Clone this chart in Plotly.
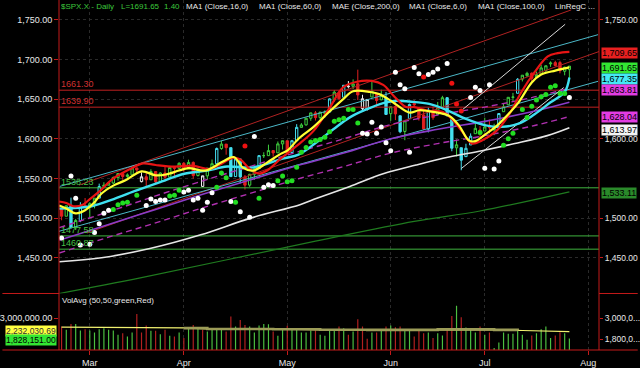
import plotly.graph_objects as go

# ---------------- data ----------------
OPEN = [1511.95,1502.42,1515.60,1487.85,1496.94,1515.99,1514.68,1518.20,1525.20,1539.79,
1541.46,1544.26,1551.15,1556.22,1552.48,1554.52,1563.21,1546.00,1552.10,1548.34,
1558.71,1545.90,1556.89,1551.69,1563.75,1562.86,1569.18,1562.17,1570.25,1553.69,
1540.00,1553.26,1563.11,1568.61,1587.73,1593.30,1588.84,1552.36,1574.57,1552.03,
1541.61,1555.25,1562.50,1578.78,1578.78,1585.16,1582.34,1593.58,1597.55,1582.77,
1597.60,1614.40,1617.55,1625.95,1632.69,1626.69,1632.10,1633.75,1649.13,1658.07,
1652.45,1665.71,1666.20,1669.39,1638.00,1637.00,1652.63,1656.57,1649.14,1652.13,
1631.71,1640.73,1629.05,1609.29,1625.27,1644.67,1638.64,1629.94,1612.15,1635.52,
1630.64,1639.77,1651.83,1624.62,1588.62,1588.77,1577.52,1592.27,1606.44,1611.12,
1609.78,1614.29,1611.48,1618.65,1634.20,1642.89,1652.28,1657.41,1675.26,1679.59,
1682.70,1677.91,1681.05,1686.15,1694.41,1696.06,1696.06,1685.21,1687.31]
HIGH = [1511.95,1515.64,1525.84,1498.99,1520.08,1525.34,1519.99,1525.27,1543.47,1545.25,
1545.78,1552.48,1556.27,1556.77,1556.39,1563.32,1563.62,1557.70,1557.25,1561.56,
1558.71,1557.74,1564.91,1563.95,1564.07,1570.28,1570.57,1573.66,1571.47,1562.60,
1553.50,1563.07,1573.89,1589.07,1597.35,1593.30,1588.84,1575.35,1574.57,1554.38,
1555.89,1565.55,1579.58,1583.00,1592.64,1585.78,1596.65,1597.57,1597.55,1598.60,
1618.46,1619.77,1626.03,1632.78,1635.01,1633.70,1636.00,1651.10,1661.49,1660.51,
1667.47,1672.84,1674.93,1687.18,1655.50,1649.78,1674.21,1656.57,1661.91,1658.99,
1640.42,1646.53,1629.31,1622.56,1644.40,1648.69,1640.13,1637.71,1639.25,1640.80,
1646.50,1654.19,1652.45,1624.62,1599.19,1588.77,1593.79,1606.83,1620.07,1615.94,
1626.61,1624.26,1618.97,1632.07,1644.68,1652.48,1657.92,1676.63,1680.19,1684.51,
1683.73,1684.75,1693.12,1692.09,1697.61,1698.38,1698.38,1690.94,1691.85]
LOW = [1497.29,1502.42,1487.85,1485.01,1494.88,1514.46,1501.48,1512.29,1525.20,1538.11,
1541.46,1542.94,1547.36,1548.24,1548.25,1554.52,1555.74,1545.13,1538.57,1548.34,
1543.55,1545.90,1546.22,1551.69,1551.90,1561.08,1558.47,1562.17,1549.80,1552.52,
1539.50,1548.63,1560.92,1568.61,1586.17,1579.97,1552.28,1552.36,1543.69,1536.03,
1539.40,1548.19,1562.50,1575.80,1578.78,1577.56,1582.34,1586.50,1581.28,1582.77,
1597.60,1614.21,1616.64,1622.70,1623.09,1623.71,1626.74,1633.75,1646.68,1648.60,
1652.45,1663.52,1662.67,1648.86,1635.53,1635.60,1652.63,1640.05,1648.61,1630.74,
1622.72,1623.62,1607.09,1598.23,1625.27,1639.26,1622.92,1610.92,1608.07,1623.96,
1630.34,1639.77,1628.91,1584.32,1577.70,1560.33,1577.09,1592.27,1606.44,1601.06,
1609.78,1606.77,1604.57,1614.71,1634.20,1642.89,1647.66,1657.41,1672.33,1677.89,
1671.84,1677.91,1681.05,1684.08,1690.67,1691.13,1682.57,1680.07,1676.03]
CLOSE = [1502.42,1515.60,1487.85,1496.94,1515.99,1514.68,1518.20,1525.20,1539.79,1541.46,
1544.26,1551.18,1556.22,1552.48,1554.52,1563.23,1560.70,1552.10,1548.34,1558.71,
1545.80,1556.89,1551.69,1563.77,1562.85,1569.19,1562.17,1570.25,1553.69,1559.98,
1553.28,1563.07,1568.61,1587.73,1593.37,1588.85,1552.36,1574.57,1552.01,1541.61,
1555.25,1562.50,1578.78,1578.79,1585.16,1582.24,1593.61,1597.57,1582.70,1597.59,
1614.42,1617.50,1625.96,1632.69,1626.67,1633.70,1633.77,1650.34,1658.78,1650.47,
1667.47,1666.29,1669.16,1655.35,1650.51,1649.60,1660.06,1648.36,1654.41,1630.74,
1640.42,1631.38,1608.90,1622.56,1643.38,1642.81,1626.13,1612.52,1636.36,1626.73,
1639.04,1651.81,1628.93,1588.19,1592.43,1573.09,1588.03,1603.26,1613.20,1606.28,
1614.96,1614.08,1615.41,1631.89,1640.46,1652.32,1652.62,1675.02,1680.19,1682.50,
1676.26,1680.91,1689.37,1692.09,1695.53,1692.39,1685.94,1690.25,1691.65]
PREV_CLOSE = 1511.95

VOLUME_K = [2524,2333,2676,2676,2295,2371,2295,2181,2371,2429,
2333,2295,2048,2143,1952,2181,3248,2181,2581,2276,
2276,2086,2333,1990,1952,2181,1857,2429,2619,2429,
2333,2238,2333,2390,2333,2238,3095,2524,2905,2619,
2524,2181,2581,2676,2657,2238,1990,2333,2562,2333,
2333,2181,2181,2295,2295,2048,1990,2333,2371,2524,
2429,2048,2238,2943,2524,1819,2181,2181,2295,2524,
2581,2486,2524,2371,2276,1952,2276,2143,2181,1857,
2143,2010,2371,3133,3724,3057,2467,2333,2181,2524,
2048,2181,1286,1610,2181,2105,2105,2295,2048,1762,
2010,2143,2371,2524,1857,2010,2200,2143,1828]

VOLAVG_I = [0, 10, 26, 31, 45, 48, 55, 65, 80, 92, 98, 108]
VOLAVG_K = [2486, 2467, 2448, 2390, 2390, 2371, 2333, 2333, 2371, 2333, 2295, 2232.03]
VOLAVG2_I = [26, 31, 45, 55, 65, 80, 92, 97]
VOLAVG2_K = [2430, 2380, 2371, 2340, 2333, 2362, 2333, 2310]

MONTHS = ["Mar", "Apr", "May", "Jun", "Jul", "Aug"]
MONTH_START_BAR = [6, 26, 48, 70, 90, 112]
PRICE_TICKS = [1450, 1500, 1550, 1600, 1650, 1700, 1750]
RIGHT_TICKS = [1450, 1500, 1600, 1750]

# moving averages (sampled bar index, value)
MA6_I = [-0.5,1,3,5,7,8.5,11,13.7,17,20,22.2,25,27,30.6,34.2,36.6,38.7,40.8,43.7,46.6,48,50.4,53.6,57.1,59.9,62,65.6,67.7,69.5,71.2,74,76,78,80,82.4,84.5,86.6,88,90.2,92.3,95,97.2,100,102,105,108]
MA6_V = [1516,1512,1506,1510,1520,1531,1541,1548,1559,1554,1555,1560,1563,1560,1571,1577,1563,1560,1570,1581,1585,1600,1615,1635,1650,1660,1659,1656,1650,1643,1633,1636,1635,1633,1629,1617,1598,1597,1606,1615,1631,1646,1671,1681,1686,1690]
MA16_I = [-0.5,1,2.5,4.5,6,8.3,11,14.6,17.3,20,24,28,31.4,33.5,36.5,38,40,42,43.7,46.6,50.2,53.6,57.1,59.9,62.8,66,68.4,70.5,73.3,75,78.2,81,83,85.2,87.3,89.4,92.3,95,97.8,100.6,103.4,105.5,108]
MA16_V = [1521,1519,1515,1517,1524,1535,1550,1562,1569,1567,1565,1566,1562,1567,1576,1574,1562,1556,1560,1575,1592,1610,1640,1665,1672,1673,1668,1655,1640,1640,1635,1634,1625,1609,1594,1598,1609,1629,1659,1684,1704,1708,1709.65]
MA60C_I = [-0.5,6.4,10.6,15.5,21.2,26.1,31,35.2,40.8,47,50.4,54.3,57.8,61.3,64.8,68.4,71.2,74,78.2,82.4,86,90.2,93.6,97.2,100.6,104,107,108]
MA60C_V = [1512,1515,1523,1534,1546,1556,1560,1565,1564,1575,1580,1596,1612,1627,1637,1645,1648,1647,1644,1635,1625,1617,1615,1619,1631,1646,1659,1677.35]
MA100_I = [-0.5,8.5,19,29.6,40.2,50.7,54.3,61.3,68.4,75.4,82.4,89.4,96.4,103.3,108]
MA100_V = [1445,1450,1462,1479,1500,1517,1525,1540,1556,1567,1577,1585,1594,1604,1613.97]
MAE200_I = [-0.5,17,54,75,89,108]
MAE200_V = [1405,1425,1471,1496,1509,1533.11]
ENV_I = [-0.5,10,20,30,40,50,60,70,80,90,100,108]
ENV_MID = [1472,1492,1511,1530,1548,1566,1582,1600,1612,1622,1634,1646]
ENV_UP = [1488,1508,1528,1547,1565,1583,1600,1618,1630,1640,1652,1663.81]
ENV_LO = [1456,1476,1494,1513,1531,1549,1565,1582,1594,1604,1616,1628.04]

# trend / regression channel lines: (start bar, start value, end bar, end value)
RED_CH_UP = [3.7, 1541.6, 108.4, 1762.5]
RED_CH_LO = [5.4, 1481.3, 114.3, 1710.0]
CYAN_CH_UP = [-0.4, 1540.0, 114.1, 1731.3]
CYAN_CH_LO = [-0.55, 1483.4, 114.1, 1672.5]
WHITE_TL_UP = [85, 1635.4, 107.1, 1744.4]
WHITE_TL_LO = [85, 1562.5, 106.8, 1664.6]

LEVELS_RED = [1661.30, 1639.90]
LEVELS_GREEN = [1538.23, 1477.58, 1460.87]

# indicator dots (bar index, value)
WHITE_DOTS_I = [0,2,3,4,6,7,8,9,10,18,19,20,21,22,26,27,28,29,30,31,32,36,38,40,41,43,44,45,64,65,66,67,68,69,70,71,72,73,74,75,76,78,79,80,82,87,88,89,91,90,92,93,108]
WHITE_DOTS_V = [1475,1553,1525,1466,1467,1482,1493,1506,1510,1516,1524,1521,1523,1523,1533,1535,1523,1525,1510,1520,1532,1521,1508,1501,1603,1539,1542,1541,1607,1606,1621,1607,1615,1595,1585,1684,1668,1663,1583,1690,1682,1681,1684,1688,1695,1652,1665,1661,1668,1563,1562,1572,1652]
GREEN_DOTS_I = [11,12,13,14,16,23,24,25,33,34,35,37,42,46,47,48,49,50,51,52,53,54,55,56,57,58,59,60,61,62,63,89,94,95,96,98,99,100,101,102,103,104,105,106,107]
GREEN_DOTS_V = [1511,1517,1519,1520,1529,1528,1529,1535,1539,1557,1551,1520,1525,1547,1553,1546,1547,1564,1583,1589,1596,1598,1599,1602,1609,1622,1624,1626,1637,1637,1620,1608,1592,1600,1607,1637,1627,1641,1649,1653,1656,1665,1667,1657,1657]
RED_DOTS_I = [39, 77, 83, 84, 85]
RED_DOTS_V = [1591, 1678, 1670, 1644, 1635]

TAGS = [(1709.65, '#e82020'), (1691.65, '#33e633'), (1677.35, '#44e8f4'),
        (1663.81, '#e23ce2'), (1628.04, '#e23ce2'), (1613.97, '#f4f4f4'), (1533.11, '#2a8a2a')]
VOL_LAST = 1828151.00
VOL_AVG_LAST = 2232030.69

# ---------------- geometry ----------------
W, H = 640, 368
ML, MR, MT, MB = 57, 39, 0, 15
PW, PH = W - ML - MR, H - MT - MB
SPLIT = 1 - 296 / PH
X_MIN, X_MAX = -0.55, 114.3
P_MIN, P_MAX = 1405, 1775
V_MIN, V_MAX = 1.1714e6, 4.4286e6
N = len(CLOSE)
X = list(range(N))
VOLUME = [v * 1000 for v in VOLUME_K]

def pxx(px):
    return (px - ML) / PW

def pxy(py):
    return 1 - (py - MT) / PH

def price_px(v):
    return 20 + (1750 - v) * 0.8

RED = '#c41a1a'
FONT = 'Liberation Sans, Arial, sans-serif'

fig = go.Figure()

def line(xs, ys, color, width=1, dash='solid', shape='linear', yaxis='y'):
    fig.add_trace(go.Scatter(x=xs, y=ys, mode='lines', yaxis=yaxis,
                             line=dict(color=color, width=width, dash=dash, shape=shape),
                             hoverinfo='skip', showlegend=False))

# horizontal levels
for v in LEVELS_RED:
    line([X_MIN, X_MAX], [v, v], '#c02020', 1)
for v in LEVELS_GREEN:
    line([X_MIN, X_MAX], [v, v], '#3fb43f', 1)

# channels / trendlines
for seg, col in [(RED_CH_UP, '#b02222'), (RED_CH_LO, '#b02222'),
                 (CYAN_CH_UP, '#4bb8c8'), (CYAN_CH_LO, '#4bb8c8'),
                 (WHITE_TL_UP, '#d8d8d8'), (WHITE_TL_LO, '#d8d8d8')]:
    line([seg[0], seg[2]], [seg[1], seg[3]], col, 1)

# slow averages
line(MAE200_I, MAE200_V, '#1f7a1f', 1.2, shape='spline')
line(MA100_I, MA100_V, '#e6e6e6', 1.6, shape='spline')
line(ENV_I, ENV_LO, '#b030b0', 1.4, dash='6px,4px', shape='spline')
line(ENV_I, ENV_UP, '#b030b0', 1.4, dash='6px,4px', shape='spline')
line(ENV_I, ENV_MID, '#8a3cc8', 1.6, shape='spline')

# candles
prev = [PREV_CLOSE] + CLOSE[:-1]
groups = {}
for i in range(N):
    o, c, p = OPEN[i], CLOSE[i], prev[i]
    chg = (c - p) / p
    if c >= o:
        g = 'cyan_h' if chg > 0.009 else ('green_h' if c >= p else 'white_h')
    else:
        g = 'cyan_f' if chg < -0.0115 else 'red_f'
    groups.setdefault(g, []).append(i)
STY = {'green_h': ('#3fd03f', '#000000'), 'white_h': ('#f0f0f0', '#000000'),
       'cyan_h': ('#44e0f0', '#000000'), 'red_f': ('#e22020', '#e22020'),
       'cyan_f': ('#44e0f0', '#44e0f0')}
for g, idx in groups.items():
    lc, fc = STY[g]
    fig.add_trace(go.Candlestick(
        x=idx, open=[OPEN[i] for i in idx], high=[HIGH[i] for i in idx],
        low=[LOW[i] for i in idx], close=[CLOSE[i] for i in idx],
        increasing=dict(line=dict(color=lc, width=1), fillcolor=fc),
        decreasing=dict(line=dict(color=lc, width=1), fillcolor=fc),
        whiskerwidth=0, showlegend=False, hoverinfo='skip'))

# fast averages
line(MA60C_I, MA60C_V, '#3fe0f0', 2.4, shape='spline')
line(MA16_I, MA16_V, '#e81414', 2.2, shape='spline')
line(MA6_I, MA6_V, '#ffff33', 2.2, shape='spline')

# dots
for xs, ys, col in [(WHITE_DOTS_I, WHITE_DOTS_V, '#ffffff'),
                    (GREEN_DOTS_I, GREEN_DOTS_V, '#22dd22'),
                    (RED_DOTS_I, RED_DOTS_V, '#ee1111')]:
    fig.add_trace(go.Scatter(x=xs, y=ys, mode='markers',
                             marker=dict(color=col, size=5, line=dict(width=0)),
                             hoverinfo='skip', showlegend=False))

# volume
vcol = ['#4cc040' if CLOSE[i] >= prev[i] else '#b42020' for i in range(N)]
fig.add_trace(go.Bar(x=X, y=VOLUME, yaxis='y2', width=0.25,
                     marker=dict(color=vcol, line=dict(width=0)),
                     hoverinfo='skip', showlegend=False))
line(VOLAVG_I, [v * 1000 for v in VOLAVG_K], '#f0f070', 1.2, yaxis='y2')
line(VOLAVG2_I, [v * 1000 for v in VOLAVG2_K], '#9c9c58', 2.6, shape='hv', yaxis='y2')

# helper traces so the right-side axes render
fig.add_trace(go.Scatter(x=[0], y=[1600], yaxis='y3', mode='markers',
                         marker=dict(opacity=0), hoverinfo='skip', showlegend=False))
fig.add_trace(go.Scatter(x=[0], y=[2e6], yaxis='y4', mode='markers',
                         marker=dict(opacity=0), hoverinfo='skip', showlegend=False))

ann = []
# header text
HEAD = [(58, '$SPX.X - Daily', '#3cc83c'), (118, 'L=1691.65', '#3cc83c'), (162, '1.40', '#3cc83c'),
        (184, 'MA1 (Close,16,0)', '#e8e8e8'), (257, 'MA1 (Close,60,0)', '#e8e8e8'),
        (331, 'MAE (Close,200,0)', '#e8e8e8'), (409, 'MA1 (Close,6,0)', '#e8e8e8'),
        (478, 'MA1 (Close,100,0)', '#e8e8e8'), (556, 'LinRegC ...', '#e8e8e8')]
for px, t, col in HEAD:
    ann.append(dict(x=pxx(px), y=pxy(7), xref='paper', yref='paper', text=t, showarrow=False,
                    xanchor='left', yanchor='middle', font=dict(size=8, color=col), borderpad=0))
# level labels
for v in LEVELS_RED:
    ann.append(dict(x=pxx(58), y=v, xref='paper', yref='y', text=f'{v:.2f}', showarrow=False,
                    xanchor='left', yanchor='bottom', font=dict(size=9, color='#d03030'), borderpad=0))
for v in LEVELS_GREEN:
    ann.append(dict(x=pxx(58), y=v, xref='paper', yref='y', text=f'{v:.2f}', showarrow=False,
                    xanchor='left', yanchor='bottom', font=dict(size=9, color='#46c046'), borderpad=0))
# right value tags (stacked like the reference)
TAG_PX = [53, 69, 80, 91, 118, 131, 195]
for (v, bg), ty in zip(TAGS, TAG_PX):
    ann.append(dict(x=1, y=v, xref='paper', yref='y', text=f'{v:,.2f}', showarrow=False,
                    xanchor='left', yanchor='middle', xshift=2, yshift=price_px(v) - ty, bgcolor=bg,
                    font=dict(size=9, color='#000000'), borderpad=0))
# volume labels
ann.append(dict(x=pxx(58), y=pxy(303), xref='paper', yref='paper', text='VolAvg (50,50,green,Red)',
                showarrow=False, xanchor='left', yanchor='middle', font=dict(size=8, color='#e8e8e8')))
ann.append(dict(x=0, y=VOL_AVG_LAST, xref='paper', yref='y2', text=f'{VOL_AVG_LAST:,.2f}',
                showarrow=False, xanchor='right', yanchor='middle', xshift=-2, yshift=1, bgcolor='#ffff40',
                font=dict(size=8.5, color='#303030'), borderpad=0))
ann.append(dict(x=0, y=VOL_LAST, xref='paper', yref='y2', text=f'{VOL_LAST:,.2f}',
                showarrow=False, xanchor='right', yanchor='middle', xshift=-2, yshift=-1, bgcolor='#33e633',
                font=dict(size=8.5, color='#000000'), borderpad=0))

shapes = []
for xx in (0, 1):
    shapes.append(dict(type='line', xref='paper', yref='paper', x0=xx, x1=xx, y0=0, y1=1,
                       line=dict(color=RED, width=1)))
shapes.append(dict(type='line', xref='paper', yref='paper', x0=pxx(0), x1=pxx(W), y0=0, y1=0,
                   line=dict(color=RED, width=1)))
shapes.append(dict(type='line', xref='paper', yref='paper', x0=pxx(0), x1=0, y0=SPLIT, y1=SPLIT,
                   line=dict(color=RED, width=1)))
shapes.append(dict(type='line', xref='paper', yref='paper', x0=1, x1=pxx(W), y0=SPLIT, y1=SPLIT,
                   line=dict(color=RED, width=1)))

axis_common = dict(zeroline=False, showline=False, ticks='outside', ticklen=4, tickcolor=RED,
                   tickfont=dict(size=9, color='#e8e8e8'), fixedrange=True)
right_common = dict(axis_common, ticklen=3, tickfont=dict(size=8.5, color='#e8e8e8'))
fig.update_layout(
    width=W, height=H, margin=dict(l=ML, r=MR, t=MT, b=MB, pad=0),
    paper_bgcolor='black', plot_bgcolor='black', showlegend=False, hovermode=False,
    font=dict(family=FONT, size=9, color='#e8e8e8'),
    xaxis=dict(range=[X_MIN, X_MAX], anchor='y2', tickvals=MONTH_START_BAR, ticktext=MONTHS,
               showgrid=True, gridcolor='#2a2a2a', griddash='dot', gridwidth=1,
               rangeslider=dict(visible=False), **axis_common),
    yaxis=dict(domain=[SPLIT, 1], range=[P_MIN, P_MAX], tickvals=PRICE_TICKS, tickformat=',.2f',
               showgrid=True, gridcolor='#2a2a2a', griddash='dot', anchor='x', **axis_common),
    yaxis2=dict(domain=[0, SPLIT], range=[V_MIN, V_MAX], tickvals=[3e6], ticktext=['3,000,000.00'],
                showgrid=False, anchor='x', **axis_common),
    yaxis3=dict(overlaying='y', side='right', range=[P_MIN, P_MAX], tickvals=RIGHT_TICKS,
                tickformat=',.2f', showgrid=False, anchor='x', **right_common),
    yaxis4=dict(overlaying='y2', side='right', range=[V_MIN, V_MAX], tickvals=[1.8e6, 3e6],
                ticktext=['1,800,0...', '3,000,0...'], showgrid=False, anchor='x', **right_common),
    annotations=ann, shapes=shapes,
)
fig.write_html('out.html', config={'displayModeBar': False, 'staticPlot': True},
               post_script="document.body.style.margin='0px';document.body.style.background='black';")
